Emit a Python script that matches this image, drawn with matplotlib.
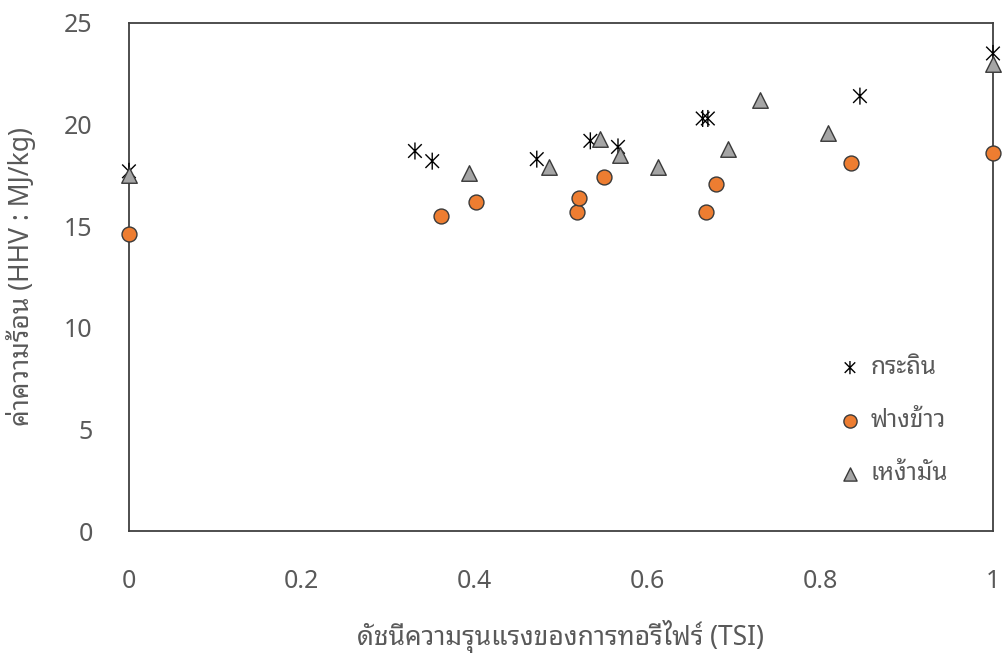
import matplotlib
matplotlib.use("Agg")
import matplotlib.pyplot as plt
from matplotlib.path import Path

plt.rcParams['font.family'] = ['Noto Sans Thai Looped', 'DejaVu Sans']

# กระถิน
tsi_leucaena = [0.0, 0.331, 0.351, 0.472, 0.534, 0.566, 0.664, 0.670, 0.846, 1.0]
hhv_leucaena = [17.7, 18.7, 18.2, 18.3, 19.2, 18.9, 20.3, 20.3, 21.4, 23.5]

# ฟางข้าว
tsi_straw = [0.0, 0.361, 0.402, 0.519, 0.521, 0.550, 0.668, 0.679, 0.836, 1.0]
hhv_straw = [14.6, 15.5, 16.2, 15.7, 16.4, 17.4, 15.7, 17.1, 18.1, 18.6]

# เหง้ามัน
tsi_cassava = [0.0, 0.394, 0.486, 0.545, 0.568, 0.612, 0.693, 0.730, 0.809, 1.0]
hhv_cassava = [17.5, 17.6, 17.9, 19.3, 18.5, 17.9, 18.8, 21.2, 19.6, 23.0]

# X with a vertical bar, like the spreadsheet "star" marker
star = Path(
    [(-1, -1), (1, 1), (-1, 1), (1, -1), (0, -1.25), (0, 1.25)],
    [Path.MOVETO, Path.LINETO, Path.MOVETO, Path.LINETO, Path.MOVETO, Path.LINETO],
)

text_color = '#595959'

fig = plt.figure(figsize=(10.02, 6.64), dpi=100)
ax = fig.add_axes([0.1287, 0.2003, 0.8623, 0.7651])

ax.scatter(tsi_leucaena, hhv_leucaena, marker=star, s=150, facecolor='none',
           edgecolors='black', linewidths=1.0, label='กระถิน', zorder=3, clip_on=False)
ax.scatter(tsi_straw, hhv_straw, marker='o', s=115, color='#ED7D31',
           edgecolors='#3a3a3a', linewidths=1.0, label='ฟางข้าว', zorder=3, clip_on=False)
ax.scatter(tsi_cassava, hhv_cassava, marker='^', s=125, color='#A5A5A5',
           edgecolors='#3a3a3a', linewidths=1.0, label='เหง้ามัน', zorder=3, clip_on=False)

ax.set_xlim(0, 1)
ax.set_ylim(0, 25)
ax.set_xticks([0, 0.2, 0.4, 0.6, 0.8, 1])
ax.set_xticklabels(['0', '0.2', '0.4', '0.6', '0.8', '1'])
ax.set_yticks([0, 5, 10, 15, 20, 25])
ax.tick_params(length=0, labelsize=18, colors=text_color)
ax.tick_params(axis='x', pad=27)
ax.tick_params(axis='y', pad=26)
for sp in ax.spines.values():
    sp.set_color('#404040')
    sp.set_linewidth(1.3)

ax.set_xlabel('ดัชนีความรุนแรงของการทอรีไฟร์ (TSI)', fontsize=19, color=text_color)
ax.set_ylabel('ค่าความร้อน (HHV : MJ/kg)', fontsize=19, color=text_color)
ax.xaxis.set_label_coords(0.5, -0.175)
ax.yaxis.set_label_coords(-0.108, 0.5)

leg = ax.legend(loc='lower right', bbox_to_anchor=(0.962, 0.064), frameon=False, fontsize=17.5,
                labelspacing=1.2, handlelength=1.0, handletextpad=0.35, borderpad=0,
                scatterpoints=1, labelcolor=text_color)
for h in leg.legend_handles:
    h.set_sizes([90])

fig.savefig('out.png', dpi=100)
